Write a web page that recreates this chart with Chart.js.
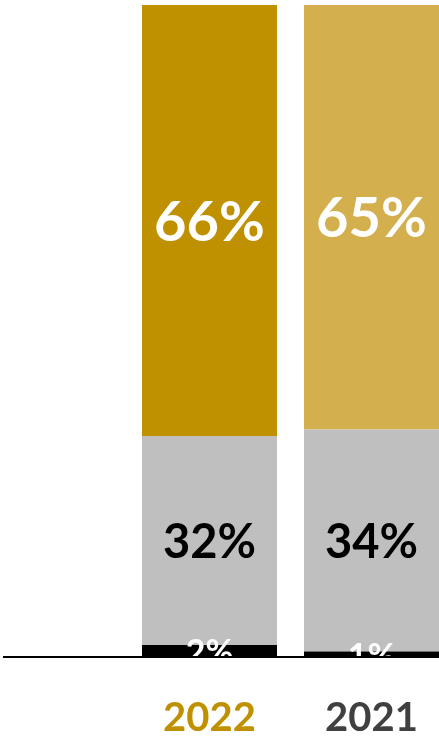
<!DOCTYPE html>
<html>
<head>
<meta charset="utf-8">
<script src="https://cdn.jsdelivr.net/npm/chart.js@4"></script>
<style>
  html, body { margin: 0; padding: 0; background: #ffffff; overflow: hidden; }
  #wrap { width: 460px; height: 739px; }
</style>
</head>
<body>
<div id="wrap"><canvas id="shareBar" width="460" height="739"></canvas></div>
<script>
const $ = id => document.getElementById(id);

// Data
const years = ["2022", "2021"];
const bottomShare = [2, 1];
const middleShare = [32, 34];
const topShare = [66, 65];

const yearColors = ["#BF9000", "#404040"];

// Draw the % labels in the middle of each segment
const segmentLabels = {
  id: "segmentLabels",
  afterDatasetsDraw(chart) {
    const ctx = chart.ctx;
    ctx.save();
    ctx.textAlign = "center";
    ctx.textBaseline = "middle";
    chart.data.datasets.forEach((ds, i) => {
      const meta = chart.getDatasetMeta(i);
      meta.data.forEach((bar, j) => {
        const { x, y, base } = bar.getProps(["x", "y", "base"], true);
        ctx.fillStyle = ds.labelColor;
        ctx.font = `bold ${ds.labelSize}px Lato`;
        ctx.fillText(ds.data[j] + "%", x, (y + base) / 2 + 2);
      });
    });
    ctx.restore();
  },
  afterDraw(chart) {
    // baseline across the whole width
    const ctx = chart.ctx;
    const yPos = chart.scales.y.getPixelForValue(0);
    ctx.save();
    ctx.strokeStyle = "#000000";
    ctx.lineWidth = 2;
    ctx.beginPath();
    ctx.moveTo(3, yPos - 1);
    ctx.lineTo(chart.width, yPos - 1);
    ctx.stroke();
    ctx.restore();
  }
};

Chart.defaults.font.family = "Lato";

new Chart($("shareBar"), {
  type: "bar",
  data: {
    labels: years,
    datasets: [
      {
        label: "Bottom",
        data: bottomShare,
        backgroundColor: "#000000",
        labelColor: "#ffffff",
        labelSize: 34
      },
      {
        label: "Middle",
        data: middleShare,
        backgroundColor: "#BFBFBF",
        labelColor: "#000000",
        labelSize: 47
      },
      {
        label: "Top",
        data: topShare,
        backgroundColor: ["#BF9000", "#D3AF4D"],
        labelColor: "#ffffff",
        labelSize: 56
      }
    ]
  },
  options: {
    responsive: false,
    animation: false,
    layout: { padding: { left: 128.5, right: 7.5, top: 5, bottom: -39 } },
    datasets: {
      bar: { barPercentage: 135 / 162, categoryPercentage: 1, borderWidth: 0 }
    },
    plugins: {
      legend: { display: false },
      tooltip: { enabled: false }
    },
    scales: {
      x: {
        stacked: true,
        grid: { display: false, drawTicks: false },
        border: { display: false },
        ticks: {
          padding: 36,
          color: yearColors,
          font: { size: 40, weight: "bold" }
        }
      },
      y: {
        stacked: true,
        display: false,
        min: 0,
        max: 100
      }
    }
  },
  plugins: [segmentLabels]
});
</script>
</body>
</html>
